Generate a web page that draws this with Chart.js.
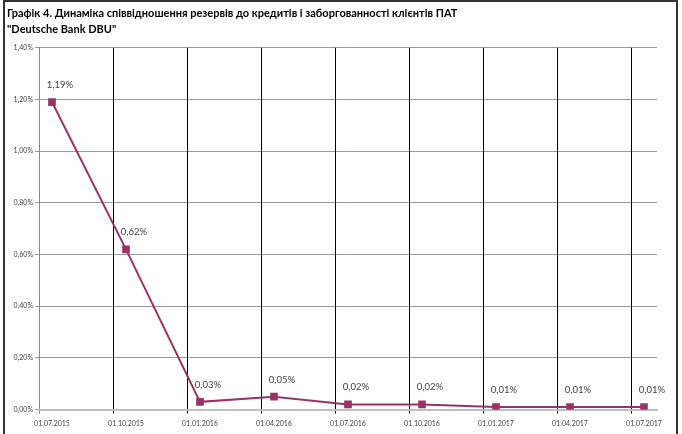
<!DOCTYPE html>
<html>
<head>
<meta charset="utf-8">
<script src="https://cdn.jsdelivr.net/npm/chart.js@4"></script>
<style>
  html, body { margin: 0; padding: 0; background: #fff; }
  #wrap { width: 682px; height: 434px; position: relative; }
</style>
</head>
<body>
<div id="wrap"><canvas id="reserveChart"></canvas></div>
<script>
const titleLines = [
  'Графік 4. Динаміка співвідношення резервів до кредитів і заборгованності клієнтів ПАТ',
  '"Deutsche Bank DBU"'
];
const dates = ['01.07.2015', '01.10.2015', '01.01.2016', '01.04.2016', '01.07.2016',
  '01.10.2016', '01.01.2017', '01.04.2017', '01.07.2017'];
const ratio = [1.19, 0.62, 0.03, 0.05, 0.02, 0.02, 0.01, 0.01, 0.01];
const yTicks = [0, 0.2, 0.4, 0.6, 0.8, 1.0, 1.2, 1.4];

const FONT = 'Lato, "Open Sans", sans-serif';
const LINE = '#993366';
// Excel puts the points a bit right of the category lines
const shift = 13 / 74;
const xMin = -shift;
const xMax = 618 / 74 - shift;

const pct = (v) => v.toFixed(2).replace('.', ',') + '%';

const frame = {
  id: 'frame',
  beforeDraw(chart) {
    const { ctx, width, height } = chart;
    ctx.save();
    ctx.fillStyle = '#fff';
    ctx.fillRect(0, 0, width, height);
    ctx.strokeStyle = '#333';
    ctx.lineWidth = 2;
    ctx.strokeRect(4, 1, 673, height + 10);
    ctx.restore();
  }
};

const pointLabels = {
  id: 'pointLabels',
  afterDatasetsDraw(chart) {
    const { ctx } = chart;
    const meta = chart.getDatasetMeta(0);
    ctx.save();
    ctx.font = '9.5px ' + FONT;
    ctx.fillStyle = '#404040';
    ctx.textAlign = 'center';
    ctx.textBaseline = 'middle';
    meta.data.forEach((pt, i) => {
      ctx.fillText(pct(ratio[i]), pt.x + 8, pt.y - 17);
    });
    ctx.restore();
  }
};

new Chart(document.getElementById('reserveChart'), {
  type: 'line',
  data: {
    datasets: [{
      data: ratio.map((v, i) => ({ x: i, y: v })),
      borderColor: LINE,
      backgroundColor: LINE,
      borderWidth: 2,
      pointStyle: 'rect',
      pointRadius: 4,
      pointHoverRadius: 4,
      tension: 0,
    }],
  },
  options: {
    responsive: true,
    maintainAspectRatio: false,
    animation: false,
    layout: { padding: { left: 7, right: 25, top: 6, bottom: 0 } },
    plugins: {
      legend: { display: false },
      tooltip: { enabled: false },
      title: {
        display: true,
        text: titleLines,
        align: 'start',
        color: '#000',
        font: { family: FONT, size: 11, weight: 'bold', lineHeight: 1.4 },
        padding: { top: 0, bottom: 11 },
      },
    },
    scales: {
      y: {
        min: 0,
        max: 1.4,
        afterFit(scale) { scale.width = 32; },
        afterBuildTicks(scale) { scale.ticks = yTicks.map((v) => ({ value: v })); },
        ticks: {
          callback: (v) => pct(v),
          font: { family: FONT, size: 7 },
          color: '#404040',
          padding: 2,
        },
        grid: { color: '#999', tickLength: 4, lineWidth: 1 },
        border: { color: '#888', width: 1 },
      },
      xg: {
        type: 'linear',
        position: 'bottom',
        min: xMin,
        max: xMax,
        afterBuildTicks(scale) { scale.ticks = dates.map((_, k) => ({ value: k - shift })); },
        ticks: { display: false },
        grid: {
          color: (c) => (c.index === 0 ? '#888' : '#000'),
          tickLength: 4,
          lineWidth: 1,
        },
        border: { color: '#bfbfbf', width: 2 },
      },
      x: {
        type: 'linear',
        position: 'bottom',
        min: xMin,
        max: xMax,
        afterBuildTicks(scale) { scale.ticks = dates.map((_, i) => ({ value: i })); },
        ticks: {
          callback: (v) => dates[v] ?? '',
          font: { family: FONT, size: 7 },
          color: '#404040',
          padding: 6,
          autoSkip: false,
          maxRotation: 0,
        },
        grid: { display: false, drawTicks: false },
        border: { display: false },
      },
    },
  },
  plugins: [frame, pointLabels],
});
</script>
</body>
</html>
